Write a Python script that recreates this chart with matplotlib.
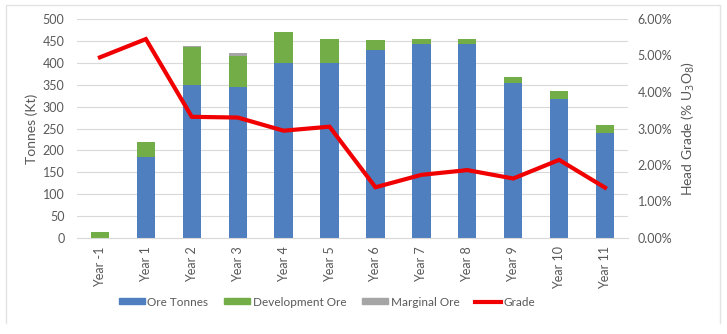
import matplotlib
matplotlib.use("Agg")
import matplotlib.pyplot as plt
from matplotlib.ticker import FuncFormatter, MultipleLocator
from matplotlib.lines import Line2D

plt.rcParams['font.family'] = ['Lato', 'DejaVu Sans']

years = ["Year -1", "Year 1", "Year 2", "Year 3", "Year 4", "Year 5",
         "Year 6", "Year 7", "Year 8", "Year 9", "Year 10", "Year 11"]
ore_tonnes = [0, 186, 350, 345, 399, 399, 430, 444, 443, 355, 317, 239]
development_ore = [14, 33, 85, 71, 71, 55, 22, 10, 11, 13, 19, 18]
marginal_ore = [0, 0, 3, 6, 0, 0, 0, 0, 0, 0, 0, 0]
grade_pct = [4.95, 5.45, 3.32, 3.30, 2.94, 3.05, 1.39, 1.73, 1.86, 1.63, 2.14, 1.38]

BLUE = "#4f7fbf"
GREEN = "#72ad47"
GREY = "#a5a5a5"
RED = "#f00000"
TXT = "#595959"
GRID = "#d9d9d9"

fig = plt.figure(figsize=(7.27, 3.34), dpi=100)
W, H = 727, 334
ax = fig.add_axes([77 / W, 1 - 238 / H, (628 - 77) / W, (238 - 19) / H])

x = list(range(len(years)))
w = 0.4
ax.bar(x, ore_tonnes, w, color=BLUE, zorder=2, label="Ore Tonnes")
bottom2 = [a for a in ore_tonnes]
ax.bar(x, development_ore, w, bottom=bottom2, color=GREEN, zorder=2, label="Development Ore")
bottom3 = [a + b for a, b in zip(ore_tonnes, development_ore)]
ax.bar(x, marginal_ore, w, bottom=bottom3, color=GREY, zorder=2, label="Marginal Ore")

ax.set_xlim(-0.5, len(years) - 0.5)
ax.set_ylim(0, 500)
ax.yaxis.set_major_locator(MultipleLocator(50))
ax.grid(axis="y", color=GRID, linewidth=0.8, zorder=0)
ax.set_axisbelow(True)
for s in ["top", "right", "left"]:
    ax.spines[s].set_visible(False)
ax.spines["bottom"].set_color(GRID)
ax.tick_params(axis="both", length=0, colors=TXT, labelsize=9)
ax.tick_params(axis="y", pad=9)
ax.tick_params(axis="x", pad=6)
ax.set_xticks(x)
ax.set_xticklabels(years, rotation=90)
ax.set_ylabel("Tonnes (Kt)", color=TXT, fontsize=10, labelpad=3)

ax2 = ax.twinx()
ax2.plot(x, grade_pct, color=RED, linewidth=3.0, zorder=5, label="Grade",
         solid_joinstyle="miter")
ax2.set_ylim(0, 6)
ax2.yaxis.set_major_locator(MultipleLocator(1))
ax2.yaxis.set_major_formatter(FuncFormatter(lambda v, p: f"{v:.2f}%"))
for s in ["top", "right", "left", "bottom"]:
    ax2.spines[s].set_visible(False)
ax2.tick_params(axis="y", length=0, colors=TXT, labelsize=9, pad=7)
ax2.set_ylabel("Head Grade (% U$_3$O$_8$)", color=TXT, fontsize=10, labelpad=5)

handles = [
    plt.Rectangle((0, 0), 1, 1, color=BLUE),
    plt.Rectangle((0, 0), 1, 1, color=GREEN),
    plt.Rectangle((0, 0), 1, 1, color=GREY),
    Line2D([0], [0], color=RED, linewidth=3.0),
]
labels = ["Ore Tonnes", "Development Ore", "Marginal Ore", "Grade"]
leg = fig.legend(handles, labels, loc="center", bbox_to_anchor=(327 / W, 1 - 302 / H),
                 ncol=4, frameon=False, fontsize=8.5, handlelength=2.2, handleheight=0.45,
                 handletextpad=0.25, columnspacing=1.3, labelcolor=TXT)

# light outer frame
fx = [6 / W, 6 / W, 720 / W, 720 / W]
fy = [1 - 323 / H, 1 - 5 / H, 1 - 5 / H, 1 - 323 / H]
fig.add_artist(Line2D(fx, fy, transform=fig.transFigure, color="#e3e3e3", linewidth=1.0))

fig.savefig("out.png", dpi=100, facecolor="white")
